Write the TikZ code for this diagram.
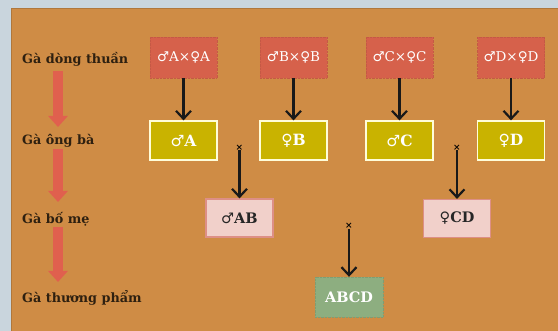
\documentclass[tikz,border=0pt]{standalone}
\usepackage{fontspec}
\setmainfont{DejaVu Serif}
\newfontfamily\symfont{DejaVu Sans}
\usetikzlibrary{arrows.meta}
\newcommand{\symMale}{{\symfont ♂}}
\newcommand{\symFemale}{{\symfont ♀}}
\definecolor{outerbg}{HTML}{C9D5DD}
\definecolor{panelor}{HTML}{CF8C45}
\definecolor{boxred}{HTML}{D6614B}
\definecolor{boxyel}{HTML}{C9B300}
\definecolor{boxpink}{HTML}{F1D0CA}
\definecolor{pinkline}{HTML}{DD8F86}
\definecolor{boxgreen}{HTML}{8DAE80}
\definecolor{bigarrow}{HTML}{E0604E}
\definecolor{labeltext}{HTML}{2E2010}
\begin{document}
\begin{tikzpicture}[x=1pt,y=-1pt,
  lvl/.style={anchor=west,font=\fontsize{12.8}{15}\selectfont\bfseries,text=labeltext,inner sep=0pt},
  redbox/.style={fill=boxred,draw=boxred!92!black,densely dotted,minimum width=67pt,minimum height=41pt,inner sep=0pt,text=white,font=\fontsize{13.5}{15}\selectfont},
  yelbox/.style={fill=boxyel,draw=white!85!yellow,line width=1.2pt,minimum width=67pt,minimum height=39pt,inner sep=0pt,text=white,font=\fontsize{15.5}{17}\selectfont\bfseries},
  pinkbox/.style={fill=boxpink,draw=pinkline,line width=1.2pt,minimum width=67pt,minimum height=38pt,inner sep=0pt,text=black!85,font=\fontsize{14.5}{16}\selectfont\bfseries},
  greenbox/.style={fill=boxgreen,draw=boxgreen!90!black,densely dotted,minimum width=68pt,minimum height=40pt,inner sep=0pt,text=white,font=\fontsize{14.5}{16}\selectfont\bfseries},
  cross/.style={inner sep=0pt,font=\fontsize{9}{10}\selectfont\bfseries,text=black},
  conn/.style={line width=2.4pt,black!90,-{Straight Barb[length=8pt,width=15pt,line width=2.2pt]}},
  fatarrow/.style={line width=10pt,bigarrow,-{Triangle[length=11pt,width=19pt]}}
]
\useasboundingbox (0,0) rectangle (558,331);
\fill[outerbg] (0,0) rectangle (558,331);
\fill[panelor] (11,8) rectangle (558,331);
\draw[panelor!85!black,line width=0.6pt] (11,331) -- (11,8) -- (558,8);

% level labels
\node[lvl] (l1) at (22,59) {Gà dòng thuần};
\node[lvl] (l2) at (22,141) {Gà ông bà};
\node[lvl] (l3) at (22,219) {Gà bố mẹ};
\node[lvl] (l4) at (22,298) {Gà thương phẩm};

% big red arrows between levels
\coordinate (r1s) at (58,71);  \coordinate (r1e) at (58,127);
\coordinate (r2s) at (58,149); \coordinate (r2e) at (58,202);
\coordinate (r3s) at (58,227); \coordinate (r3e) at (58,282);
\draw[fatarrow] (r1s) -- (r1e);
\draw[fatarrow] (r2s) -- (r2e);
\draw[fatarrow] (r3s) -- (r3e);

% pure lines
\node[redbox] (pA) at (183.5,57.5) {\symMale A×\symFemale A};
\node[redbox] (pB) at (293.5,57.5) {\symMale B×\symFemale B};
\node[redbox] (pC) at (399.5,57.5) {\symMale C×\symFemale C};
\node[redbox] (pD) at (511,57.5) {\symMale D×\symFemale D};

% grandparents
\node[yelbox] (gA) at (183.5,140.5) {\symMale A};
\node[yelbox] (gB) at (293.5,140.5) {\symFemale B};
\node[yelbox] (gC) at (399.5,140.5) {\symMale C};
\node[yelbox] (gD) at (511,140.5) {\symFemale D};

\draw[conn] (pA) -- (gA);
\draw[conn] (pB) -- (gB);
\draw[conn] (pC) -- (gC);
\draw[conn] (pD) -- (gD);

% parents
\node[pinkbox] (AB) at (239.5,218) {\symMale AB};
\node[pinkbox] (CD) at (457,218.5) {\symFemale CD};
\node[cross] (x1) at (239.5,147.5) {×};
\node[cross] (x2) at (457,147.5) {×};
\draw[conn] (x1) -- (AB);
\draw[conn] (x2) -- (CD);

% commercial
\node[greenbox] (ABCD) at (349,297) {ABCD};
\node[cross] (x3) at (349,226) {×};
\draw[conn] (x3) -- (ABCD);
\end{tikzpicture}
\end{document}
